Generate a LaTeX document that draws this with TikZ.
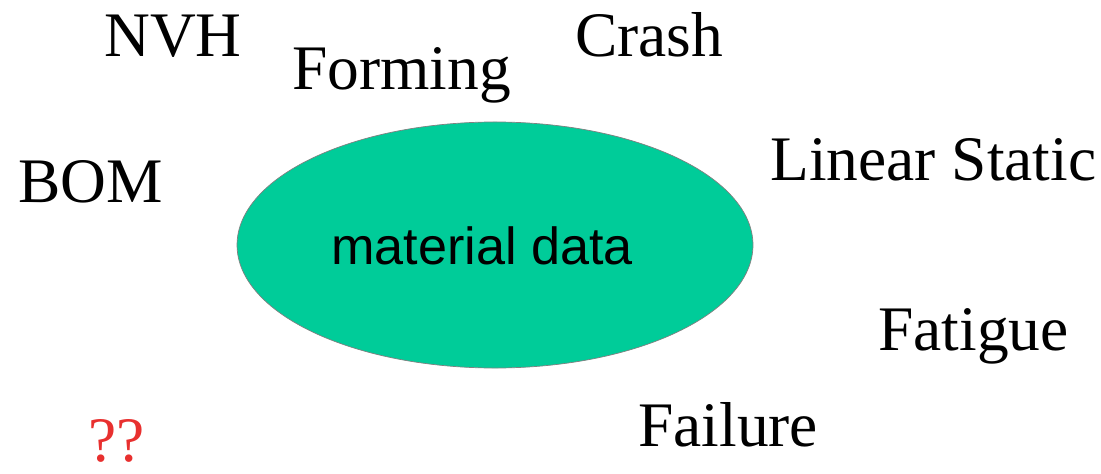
\documentclass[tikz,border=0pt]{standalone}
\usepackage{fontspec}
\setmainfont{Liberation Serif}
\newfontfamily\labelsans{Liberation Sans}
\usetikzlibrary{shapes.geometric}
\usetikzlibrary{positioning}
\definecolor{matgreen}{HTML}{00CC99}
\definecolor{qred}{HTML}{E8302F}
\tikzset{
    topic/.style={
           inner sep=0pt,
           anchor=base west,
           font=\fontsize{36.1}{40}\selectfont,
           },
    core/.style={
           ellipse,
           fill=matgreen,
           draw=gray, thin,
           minimum width=518pt*0.5669,
           minimum height=247pt*0.5669,
           inner sep=0pt,
           },
}

\begin{document}
\begin{tikzpicture}[x=0.02cm,y=-0.02cm]
   \useasboundingbox (0,0) rectangle (1101,473);

   % the central ellipse
   \node[core] (DATA) at (495,245) {};
   \node[inner sep=0pt,anchor=base,font=\labelsans\fontsize{29.7}{34}\selectfont]
      (DATALABEL) at (482,264) {material data};

   % the topics round it
   \node[topic] (NVH) at (104,57) {NVH};
   \node[topic] (FORMING) at (292,90) {Forming};
   \node[topic] (CRASH) at (575,57) {Crash};
   \node[topic] (LINEAR) at (770,180) {Linear Static};
   \node[topic] (BOM) at (18,202) {BOM};
   \node[topic] (FATIGUE) at (878,350) {Fatigue};
   \node[topic] (FAILURE) at (638,446) {Failure};
   \node[topic,text=qred,text depth=0pt] (QUESTION) at (88,461) {??};
\end{tikzpicture}
\end{document}
